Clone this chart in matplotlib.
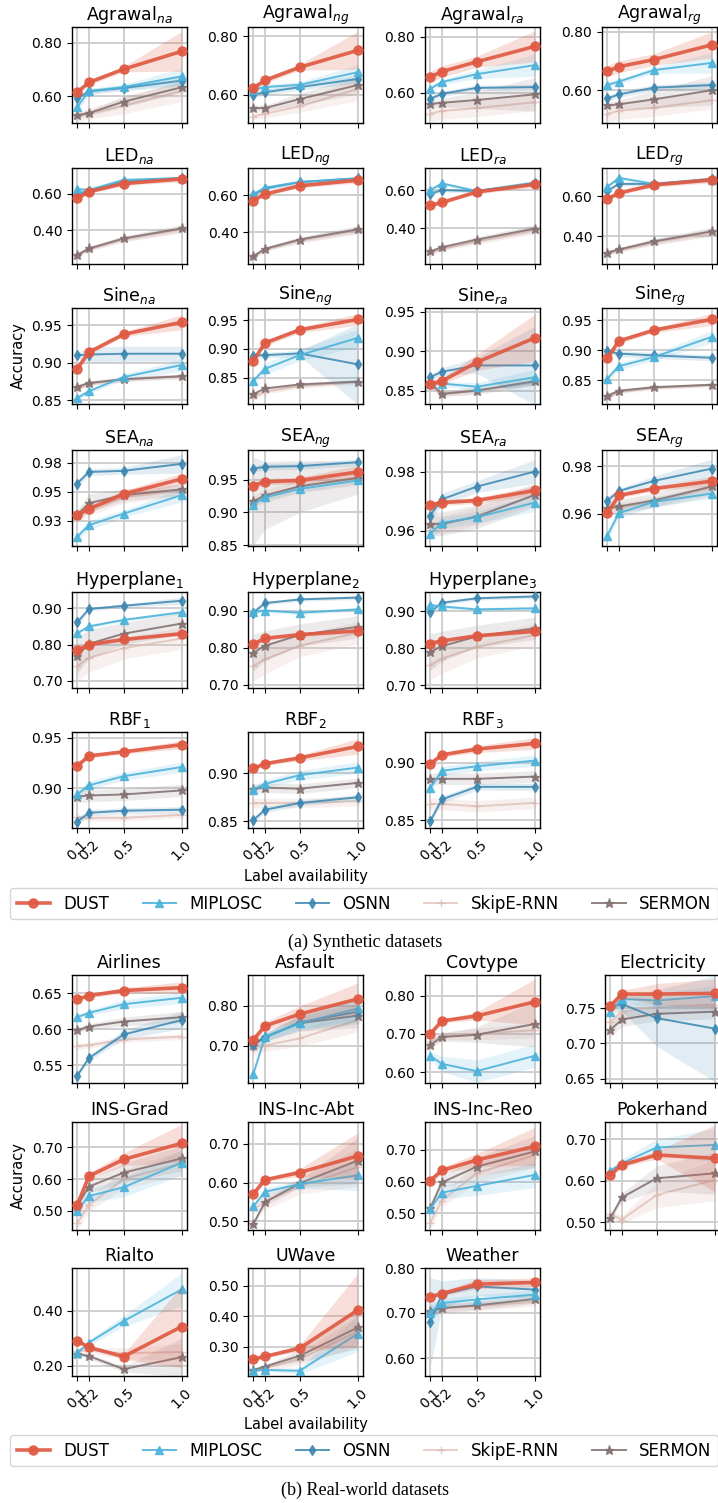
import matplotlib
matplotlib.use("Agg")
import matplotlib.pyplot as plt
from matplotlib.lines import Line2D

plt.rcParams['mathtext.fontset'] = 'dejavusans'
plt.rcParams['font.family'] = ['DejaVu Sans']

# ---------------- data ----------------
X = [0.1, 0.2, 0.5, 1.0]
XTICKLABELS = ["0.1", "0.2", "0.5", "1.0"]
METHODS = ["DUST", "MIPLOSC", "OSNN", "SkipE-RNN", "SERMON"]

# each entry: method -> (mean values, half-width of band)
AGRAWAL_NA = {
    "DUST": ([0.615, 0.652, 0.702, 0.769], [0.01, 0.01, 0.01, 0.075]),
    "MIPLOSC": ([0.560, 0.619, 0.635, 0.675], [0.02, 0.01, 0.01, 0.03]),
    "OSNN": ([0.592, 0.619, 0.631, 0.659], [0.01, 0.01, 0.01, 0.02]),
    "SkipE-RNN": ([0.525, 0.535, 0.565, 0.620], [0.02, 0.02, 0.03, 0.04]),
    "SERMON": ([0.529, 0.537, 0.580, 0.634], [0.01, 0.01, 0.02, 0.02]),
}
AGRAWAL_NG = {
    "DUST": ([0.623, 0.649, 0.694, 0.752], [0.01, 0.01, 0.01, 0.065]),
    "MIPLOSC": ([0.617, 0.626, 0.634, 0.677], [0.01, 0.01, 0.01, 0.025]),
    "OSNN": ([0.600, 0.608, 0.626, 0.654], [0.01, 0.01, 0.01, 0.015]),
    "SkipE-RNN": ([0.525, 0.535, 0.560, 0.620], [0.01, 0.015, 0.02, 0.04]),
    "SERMON": ([0.554, 0.554, 0.585, 0.633], [0.01, 0.01, 0.02, 0.03]),
}
AGRAWAL_RA = {
    "DUST": ([0.656, 0.675, 0.710, 0.765], [0.02, 0.02, 0.02, 0.055]),
    "MIPLOSC": ([0.614, 0.638, 0.666, 0.698], [0.01, 0.01, 0.015, 0.04]),
    "OSNN": ([0.578, 0.596, 0.617, 0.620], [0.01, 0.01, 0.01, 0.01]),
    "SkipE-RNN": ([0.525, 0.535, 0.545, 0.566], [0.03, 0.03, 0.03, 0.03]),
    "SERMON": ([0.560, 0.564, 0.574, 0.594], [0.01, 0.015, 0.03, 0.06]),
}
AGRAWAL_RG = {
    "DUST": ([0.665, 0.681, 0.705, 0.756], [0.02, 0.02, 0.02, 0.045]),
    "MIPLOSC": ([0.618, 0.630, 0.669, 0.694], [0.01, 0.01, 0.01, 0.035]),
    "OSNN": ([0.572, 0.586, 0.609, 0.618], [0.01, 0.01, 0.01, 0.01]),
    "SkipE-RNN": ([0.520, 0.530, 0.540, 0.566], [0.03, 0.03, 0.03, 0.03]),
    "SERMON": ([0.548, 0.552, 0.569, 0.600], [0.01, 0.015, 0.03, 0.05]),
}
LED_NA = {
    "DUST": ([0.575, 0.610, 0.655, 0.680], [0.01, 0.01, 0.01, 0.015]),
    "MIPLOSC": ([0.625, 0.620, 0.675, 0.685], [0.01, 0.01, 0.01, 0.01]),
    "OSNN": ([0.600, 0.615, 0.665, 0.685], [0.01, 0.01, 0.01, 0.01]),
    "SkipE-RNN": ([0.260, 0.295, 0.350, 0.405], [0.01, 0.01, 0.015, 0.02]),
    "SERMON": ([0.265, 0.300, 0.355, 0.410], [0.01, 0.01, 0.015, 0.02]),
}
LED_NG = {
    "DUST": ([0.570, 0.605, 0.650, 0.680], [0.01, 0.01, 0.01, 0.015]),
    "MIPLOSC": ([0.605, 0.640, 0.670, 0.690], [0.01, 0.01, 0.01, 0.01]),
    "OSNN": ([0.600, 0.635, 0.670, 0.690], [0.01, 0.01, 0.01, 0.01]),
    "SkipE-RNN": ([0.265, 0.305, 0.355, 0.410], [0.01, 0.01, 0.015, 0.02]),
    "SERMON": ([0.270, 0.310, 0.360, 0.415], [0.01, 0.01, 0.015, 0.02]),
}
LED_RA = {
    "DUST": ([0.520, 0.535, 0.590, 0.630], [0.01, 0.01, 0.01, 0.015]),
    "MIPLOSC": ([0.600, 0.635, 0.595, 0.640], [0.01, 0.01, 0.01, 0.01]),
    "OSNN": ([0.580, 0.600, 0.595, 0.635], [0.01, 0.01, 0.01, 0.01]),
    "SkipE-RNN": ([0.270, 0.290, 0.330, 0.390], [0.01, 0.01, 0.015, 0.02]),
    "SERMON": ([0.278, 0.300, 0.340, 0.398], [0.01, 0.01, 0.015, 0.02]),
}
LED_RG = {
    "DUST": ([0.585, 0.615, 0.655, 0.680], [0.01, 0.01, 0.01, 0.015]),
    "MIPLOSC": ([0.645, 0.690, 0.660, 0.680], [0.01, 0.01, 0.01, 0.01]),
    "OSNN": ([0.625, 0.660, 0.660, 0.685], [0.01, 0.01, 0.01, 0.01]),
    "SkipE-RNN": ([0.315, 0.330, 0.370, 0.420], [0.01, 0.01, 0.015, 0.02]),
    "SERMON": ([0.320, 0.335, 0.375, 0.425], [0.01, 0.01, 0.015, 0.02]),
}
SINE_NA = {
    "DUST": ([0.892, 0.914, 0.938, 0.954], [0.004, 0.003, 0.003, 0.010]),
    "MIPLOSC": ([0.853, 0.862, 0.881, 0.897], [0.003, 0.003, 0.004, 0.008]),
    "OSNN": ([0.910, 0.911, 0.912, 0.912], [0.004, 0.010, 0.010, 0.010]),
    "SkipE-RNN": ([0.866, 0.872, 0.878, 0.882], [0.003, 0.003, 0.003, 0.003]),
    "SERMON": ([0.868, 0.873, 0.878, 0.882], [0.003, 0.003, 0.003, 0.003]),
}
SINE_NG = {
    "DUST": ([0.879, 0.910, 0.933, 0.951], [0.005, 0.005, 0.005, 0.010]),
    "MIPLOSC": ([0.844, 0.865, 0.889, 0.919], [0.005, 0.010, 0.010, 0.015]),
    "OSNN": ([0.888, 0.889, 0.892, 0.873], [0.005, 0.005, 0.005, 0.070]),
    "SkipE-RNN": ([0.815, 0.825, 0.835, 0.842], [0.004, 0.004, 0.004, 0.004]),
    "SERMON": ([0.821, 0.831, 0.838, 0.843], [0.003, 0.003, 0.003, 0.003]),
}
SINE_RA = {
    "DUST": ([0.859, 0.862, 0.886, 0.917], [0.004, 0.004, 0.010, 0.030]),
    "MIPLOSC": ([0.858, 0.859, 0.855, 0.867], [0.003, 0.003, 0.005, 0.010]),
    "OSNN": ([0.867, 0.874, 0.882, 0.882], [0.004, 0.005, 0.010, 0.050]),
    "SkipE-RNN": ([0.855, 0.845, 0.850, 0.860], [0.003, 0.003, 0.003, 0.003]),
    "SERMON": ([0.860, 0.846, 0.850, 0.862], [0.003, 0.003, 0.005, 0.005]),
}
SINE_RG = {
    "DUST": ([0.886, 0.915, 0.933, 0.951], [0.005, 0.004, 0.004, 0.010]),
    "MIPLOSC": ([0.852, 0.873, 0.888, 0.922], [0.005, 0.006, 0.006, 0.010]),
    "OSNN": ([0.898, 0.894, 0.891, 0.887], [0.005, 0.005, 0.005, 0.005]),
    "SkipE-RNN": ([0.820, 0.830, 0.837, 0.842], [0.003, 0.003, 0.003, 0.003]),
    "SERMON": ([0.824, 0.832, 0.838, 0.842], [0.003, 0.003, 0.003, 0.003]),
}
SEA_NA = {
    "DUST": ([0.930, 0.935, 0.948, 0.961], [0.002, 0.003, 0.003, 0.005]),
    "MIPLOSC": ([0.911, 0.921, 0.931, 0.947], [0.003, 0.004, 0.003, 0.006]),
    "OSNN": ([0.957, 0.967, 0.968, 0.974], [0.003, 0.003, 0.003, 0.008]),
    "SkipE-RNN": ([0.928, 0.935, 0.945, 0.951], [0.005, 0.006, 0.005, 0.005]),
    "SERMON": ([0.930, 0.940, 0.947, 0.952], [0.004, 0.008, 0.005, 0.005]),
}
SEA_NG = {
    "DUST": ([0.941, 0.947, 0.949, 0.962], [0.005, 0.005, 0.005, 0.010]),
    "MIPLOSC": ([0.912, 0.923, 0.936, 0.949], [0.005, 0.005, 0.005, 0.005]),
    "OSNN": ([0.967, 0.970, 0.971, 0.977], [0.005, 0.005, 0.005, 0.005]),
    "SkipE-RNN": ([0.915, 0.925, 0.940, 0.952], [0.010, 0.010, 0.010, 0.010]),
    "SERMON": ([0.917, 0.926, 0.940, 0.953], [0.068, 0.052, 0.040, 0.025]),
}
SEA_RA = {
    "DUST": ([0.9687, 0.9695, 0.9702, 0.9736], [0.001, 0.001, 0.001, 0.0015]),
    "MIPLOSC": ([0.9589, 0.9627, 0.9645, 0.9695], [0.002, 0.002, 0.002, 0.003]),
    "OSNN": ([0.9651, 0.9706, 0.9749, 0.9800], [0.002, 0.002, 0.002, 0.004]),
    "SkipE-RNN": ([0.9620, 0.9620, 0.9650, 0.9720], [0.003, 0.003, 0.003, 0.003]),
    "SERMON": ([0.9623, 0.9623, 0.9647, 0.9721], [0.004, 0.004, 0.004, 0.004]),
}
SEA_RG = {
    "DUST": ([0.9604, 0.9677, 0.9706, 0.9737], [0.0015, 0.001, 0.001, 0.002]),
    "MIPLOSC": ([0.9508, 0.9603, 0.9650, 0.9685], [0.002, 0.002, 0.002, 0.002]),
    "OSNN": ([0.9654, 0.9696, 0.9738, 0.9790], [0.002, 0.001, 0.002, 0.004]),
    "SkipE-RNN": ([0.9620, 0.9625, 0.9650, 0.9710], [0.002, 0.002, 0.002, 0.002]),
    "SERMON": ([0.9624, 0.9631, 0.9656, 0.9715], [0.002, 0.003, 0.003, 0.004]),
}
HYPER_1 = {
    "DUST": ([0.784, 0.800, 0.814, 0.830], [0.010, 0.005, 0.005, 0.005]),
    "MIPLOSC": ([0.831, 0.850, 0.868, 0.889], [0.005, 0.005, 0.005, 0.005]),
    "OSNN": ([0.861, 0.898, 0.907, 0.921], [0.010, 0.005, 0.005, 0.010]),
    "SkipE-RNN": ([0.740, 0.763, 0.790, 0.817], [0.040, 0.040, 0.030, 0.030]),
    "SERMON": ([0.769, 0.802, 0.830, 0.858], [0.050, 0.040, 0.030, 0.030]),
}
HYPER_2 = {
    "DUST": ([0.809, 0.825, 0.835, 0.845], [0.010, 0.005, 0.005, 0.005]),
    "MIPLOSC": ([0.895, 0.900, 0.894, 0.903], [0.005, 0.005, 0.005, 0.005]),
    "OSNN": ([0.894, 0.920, 0.930, 0.935], [0.010, 0.005, 0.005, 0.005]),
    "SkipE-RNN": ([0.750, 0.768, 0.805, 0.840], [0.040, 0.040, 0.030, 0.030]),
    "SERMON": ([0.786, 0.805, 0.834, 0.856], [0.050, 0.040, 0.030, 0.030]),
}
HYPER_3 = {
    "DUST": ([0.813, 0.820, 0.834, 0.846], [0.010, 0.005, 0.005, 0.005]),
    "MIPLOSC": ([0.917, 0.913, 0.905, 0.908], [0.005, 0.005, 0.005, 0.005]),
    "OSNN": ([0.897, 0.923, 0.935, 0.940], [0.010, 0.005, 0.005, 0.005]),
    "SkipE-RNN": ([0.755, 0.772, 0.804, 0.836], [0.040, 0.040, 0.030, 0.030]),
    "SERMON": ([0.790, 0.806, 0.832, 0.854], [0.050, 0.040, 0.030, 0.030]),
}
RBF_1 = {
    "DUST": ([0.922, 0.932, 0.936, 0.943], [0.002, 0.002, 0.002, 0.004]),
    "MIPLOSC": ([0.894, 0.903, 0.912, 0.921], [0.004, 0.004, 0.004, 0.005]),
    "OSNN": ([0.867, 0.876, 0.878, 0.879], [0.003, 0.003, 0.003, 0.003]),
    "SkipE-RNN": ([0.872, 0.871, 0.871, 0.874], [0.003, 0.003, 0.003, 0.003]),
    "SERMON": ([0.892, 0.893, 0.894, 0.898], [0.006, 0.006, 0.006, 0.006]),
}
RBF_2 = {
    "DUST": ([0.905, 0.910, 0.916, 0.928], [0.002, 0.002, 0.003, 0.008]),
    "MIPLOSC": ([0.883, 0.889, 0.898, 0.906], [0.003, 0.004, 0.005, 0.006]),
    "OSNN": ([0.851, 0.862, 0.869, 0.875], [0.003, 0.003, 0.003, 0.003]),
    "SkipE-RNN": ([0.869, 0.869, 0.869, 0.871], [0.005, 0.005, 0.005, 0.005]),
    "SERMON": ([0.884, 0.885, 0.884, 0.890], [0.005, 0.005, 0.005, 0.005]),
}
RBF_3 = {
    "DUST": ([0.899, 0.907, 0.912, 0.917], [0.002, 0.002, 0.003, 0.005]),
    "MIPLOSC": ([0.878, 0.893, 0.897, 0.902], [0.003, 0.004, 0.004, 0.005]),
    "OSNN": ([0.849, 0.868, 0.879, 0.879], [0.003, 0.003, 0.003, 0.003]),
    "SkipE-RNN": ([0.864, 0.864, 0.862, 0.865], [0.005, 0.005, 0.005, 0.005]),
    "SERMON": ([0.886, 0.886, 0.886, 0.888], [0.005, 0.005, 0.005, 0.005]),
}
AIRLINES = {
    "DUST": ([0.642, 0.647, 0.654, 0.658], [0.002, 0.003, 0.004, 0.008]),
    "MIPLOSC": ([0.617, 0.623, 0.635, 0.644], [0.003, 0.004, 0.006, 0.008]),
    "OSNN": ([0.536, 0.560, 0.593, 0.613], [0.003, 0.004, 0.006, 0.012]),
    "SkipE-RNN": ([0.577, 0.578, 0.586, 0.590], [0.004, 0.004, 0.004, 0.004]),
    "SERMON": ([0.599, 0.604, 0.611, 0.617], [0.004, 0.004, 0.006, 0.008]),
}
ASFAULT = {
    "DUST": ([0.714, 0.749, 0.779, 0.817], [0.010, 0.010, 0.020, 0.040]),
    "MIPLOSC": ([0.628, 0.721, 0.756, 0.793], [0.005, 0.010, 0.015, 0.030]),
    "OSNN": ([0.702, 0.721, 0.758, 0.785], [0.010, 0.010, 0.020, 0.030]),
    "SkipE-RNN": ([0.690, 0.700, 0.718, 0.764], [0.015, 0.015, 0.020, 0.030]),
    "SERMON": ([0.702, 0.721, 0.756, 0.775], [0.010, 0.010, 0.020, 0.030]),
}
COVTYPE = {
    "DUST": ([0.700, 0.734, 0.747, 0.784], [0.005, 0.005, 0.010, 0.060]),
    "MIPLOSC": ([0.643, 0.622, 0.603, 0.643], [0.010, 0.020, 0.030, 0.030]),
    "SkipE-RNN": ([0.680, 0.695, 0.700, 0.710], [0.010, 0.010, 0.015, 0.020]),
    "SERMON": ([0.671, 0.692, 0.698, 0.726], [0.010, 0.010, 0.020, 0.060]),
}
ELECTRICITY = {
    "DUST": ([0.753, 0.770, 0.770, 0.771], [0.005, 0.005, 0.015, 0.020]),
    "MIPLOSC": ([0.745, 0.763, 0.761, 0.767], [0.005, 0.005, 0.010, 0.015]),
    "OSNN": ([0.750, 0.756, 0.736, 0.721], [0.005, 0.010, 0.040, 0.075]),
    "SkipE-RNN": ([0.730, 0.745, 0.752, 0.755], [0.010, 0.010, 0.010, 0.010]),
    "SERMON": ([0.719, 0.734, 0.742, 0.745], [0.010, 0.010, 0.010, 0.010]),
}
INS_GRAD = {
    "DUST": ([0.518, 0.609, 0.662, 0.713], [0.010, 0.010, 0.020, 0.060]),
    "MIPLOSC": ([0.500, 0.546, 0.574, 0.652], [0.010, 0.020, 0.030, 0.040]),
    "SkipE-RNN": ([0.460, 0.518, 0.600, 0.650], [0.020, 0.020, 0.030, 0.040]),
    "SERMON": ([0.515, 0.576, 0.620, 0.665], [0.010, 0.020, 0.030, 0.040]),
}
INS_ABT = {
    "DUST": ([0.570, 0.607, 0.626, 0.669], [0.005, 0.005, 0.010, 0.060]),
    "MIPLOSC": ([0.538, 0.576, 0.596, 0.619], [0.005, 0.010, 0.010, 0.040]),
    "SkipE-RNN": ([0.530, 0.550, 0.590, 0.640], [0.010, 0.020, 0.020, 0.050]),
    "SERMON": ([0.492, 0.549, 0.598, 0.657], [0.005, 0.010, 0.010, 0.060]),
}
INS_REO = {
    "DUST": ([0.603, 0.635, 0.668, 0.711], [0.010, 0.010, 0.020, 0.060]),
    "MIPLOSC": ([0.513, 0.565, 0.586, 0.621], [0.010, 0.020, 0.030, 0.040]),
    "SkipE-RNN": ([0.470, 0.540, 0.626, 0.684], [0.020, 0.020, 0.030, 0.040]),
    "SERMON": ([0.516, 0.597, 0.647, 0.695], [0.010, 0.020, 0.030, 0.050]),
}
POKERHAND = {
    "DUST": ([0.614, 0.638, 0.662, 0.654], [0.005, 0.005, 0.010, 0.080]),
    "MIPLOSC": ([0.624, 0.642, 0.680, 0.686], [0.005, 0.010, 0.020, 0.040]),
    "SkipE-RNN": ([0.520, 0.507, 0.566, 0.602], [0.010, 0.010, 0.030, 0.050]),
    "SERMON": ([0.510, 0.560, 0.606, 0.618], [0.005, 0.010, 0.030, 0.050]),
}
RIALTO = {
    "DUST": ([0.291, 0.267, 0.233, 0.343], [0.005, 0.005, 0.010, 0.150]),
    "MIPLOSC": ([0.247, 0.284, 0.363, 0.479], [0.005, 0.010, 0.020, 0.060]),
    "SkipE-RNN": ([0.255, 0.255, 0.245, 0.250], [0.010, 0.010, 0.020, 0.030]),
    "SERMON": ([0.243, 0.235, 0.187, 0.231], [0.005, 0.010, 0.010, 0.070]),
}
UWAVE = {
    "DUST": ([0.259, 0.268, 0.295, 0.420], [0.005, 0.005, 0.010, 0.120]),
    "MIPLOSC": ([0.222, 0.224, 0.221, 0.343], [0.005, 0.005, 0.010, 0.060]),
    "SkipE-RNN": ([0.220, 0.230, 0.260, 0.350], [0.005, 0.010, 0.020, 0.050]),
    "SERMON": ([0.224, 0.235, 0.270, 0.363], [0.005, 0.005, 0.020, 0.070]),
}
WEATHER = {
    "DUST": ([0.736, 0.743, 0.764, 0.768], [0.005, 0.005, 0.010, 0.010]),
    "MIPLOSC": ([0.700, 0.722, 0.730, 0.741], [0.020, 0.010, 0.010, 0.010]),
    "OSNN": ([0.679, 0.741, 0.759, 0.752], [0.100, 0.030, 0.020, 0.020]),
    "SkipE-RNN": ([0.700, 0.710, 0.715, 0.725], [0.010, 0.010, 0.010, 0.010]),
    "SERMON": ([0.705, 0.711, 0.717, 0.731], [0.010, 0.010, 0.010, 0.010]),
}

# ---------------- styles ----------------
STYLE = {
    "DUST": dict(color="#e05a43", marker="o", lw=2.6, ms=6.5, z=6, band=0.2, a=0.92),
    "MIPLOSC": dict(color="#4cb3da", marker="^", lw=1.4, ms=5.5, z=5, band=0.15, a=0.9),
    "OSNN": dict(color="#3a86b0", marker="d", lw=1.4, ms=5.5, z=4, band=0.15, a=0.85),
    "SkipE-RNN": dict(color="#dcb8b0", marker="+", lw=1.4, ms=5.5, z=2, band=0.2, a=0.7),
    "SERMON": dict(color="#857272", marker="*", lw=1.4, ms=6.5, z=3, band=0.15, a=0.9),
}

W, H, DPI = 718, 1503, 100
fig = plt.figure(figsize=(W / DPI, H / DPI), dpi=DPI)


def ax_at(left, top, width, height):
    return fig.add_axes([left / W, 1 - (top + height) / H, width / W, height / H])


def fmt(v):
    return "%.2f" % (v + 1e-9)


def draw(pos, title, data, ylim, yticks, bottom=False, ylabel=False, xlabel=False):
    ax = ax_at(*pos)
    for m in reversed(METHODS):
        if m not in data:
            continue
        mean, err = data[m]
        st = STYLE[m]
        lo = [a - b for a, b in zip(mean, err)]
        hi = [a + b for a, b in zip(mean, err)]
        ax.fill_between(X, lo, hi, color=st["color"], alpha=st["band"], lw=0, zorder=st["z"] - 0.5)
        ax.plot(X, mean, color=st["color"], marker=st["marker"], lw=st["lw"], ms=st["ms"],
                zorder=st["z"], alpha=st["a"])
    ax.set_xlim(0.055, 1.045)
    ax.set_ylim(*ylim)
    ax.set_xticks(X)
    ax.set_yticks(yticks)
    ax.set_yticklabels([fmt(v) for v in yticks])
    if bottom:
        ax.set_xticklabels(XTICKLABELS, rotation=45, fontsize=10)
    else:
        ax.set_xticklabels([])
    ax.tick_params(labelsize=10, length=3.5, width=0.8)
    ax.grid(True, color="#cccccc", lw=1.3)
    ax.set_axisbelow(True)
    for s in ax.spines.values():
        s.set_linewidth(1.0)
    ax.set_title(title, fontsize=12.5, pad=5)
    if ylabel:
        ax.set_ylabel("Accuracy", fontsize=10.5)
    if xlabel:
        ax.set_xlabel("Label availability", fontsize=10.5)
    return ax


COLS_S = [72, 248, 425, 602]
ROWS_S = [27, 168, 308, 450, 592, 732]
AW, AH = 115, 96

synthetic = [
    (r"Agrawal$_{na}$", AGRAWAL_NA, (0.500, 0.860), [0.6, 0.8]),
    (r"Agrawal$_{ng}$", AGRAWAL_NG, (0.503, 0.832), [0.6, 0.8]),
    (r"Agrawal$_{ra}$", AGRAWAL_RA, (0.492, 0.834), [0.6, 0.8]),
    (r"Agrawal$_{rg}$", AGRAWAL_RG, (0.488, 0.817), [0.6, 0.8]),
    (r"LED$_{na}$", LED_NA, (0.215, 0.740), [0.4, 0.6]),
    (r"LED$_{ng}$", LED_NG, (0.228, 0.746), [0.4, 0.6]),
    (r"LED$_{ra}$", LED_RA, (0.212, 0.716), [0.4, 0.6]),
    (r"LED$_{rg}$", LED_RG, (0.263, 0.739), [0.4, 0.6]),
    (r"Sine$_{na}$", SINE_NA, (0.845, 0.973), [0.85, 0.90, 0.95]),
    (r"Sine$_{ng}$", SINE_NG, (0.804, 0.971), [0.85, 0.90, 0.95]),
    (r"Sine$_{ra}$", SINE_RA, (0.833, 0.955), [0.85, 0.90, 0.95]),
    (r"Sine$_{rg}$", SINE_RG, (0.810, 0.970), [0.85, 0.90, 0.95]),
    (r"SEA$_{na}$", SEA_NA, (0.903, 0.986), [0.925, 0.95, 0.975]),
    (r"SEA$_{ng}$", SEA_NG, (0.8485, 0.9957), [0.85, 0.90, 0.95]),
    (r"SEA$_{ra}$", SEA_RA, (0.9548, 0.9873), [0.96, 0.98]),
    (r"SEA$_{rg}$", SEA_RG, (0.9465, 0.9868), [0.96, 0.98]),
    (r"Hyperplane$_{1}$", HYPER_1, (0.680, 0.945), [0.7, 0.8, 0.9]),
    (r"Hyperplane$_{2}$", HYPER_2, (0.691, 0.950), [0.7, 0.8, 0.9]),
    (r"Hyperplane$_{3}$", HYPER_3, (0.693, 0.952), [0.7, 0.8, 0.9]),
    None,
    (r"RBF$_{1}$", RBF_1, (0.861, 0.9555), [0.90, 0.95]),
    (r"RBF$_{2}$", RBF_2, (0.843, 0.943), [0.85, 0.90]),
    (r"RBF$_{3}$", RBF_3, (0.843, 0.927), [0.85, 0.90]),
]

for i, p in enumerate(synthetic):
    if p is None:
        continue
    r, c = divmod(i, 4)
    title, data, ylim, yt = p
    draw((COLS_S[c], ROWS_S[r], AW, AH), title, data, ylim, yt,
         bottom=(r == 5), ylabel=(r == 2 and c == 0), xlabel=(r == 5 and c == 1))

COLS_R = [72, 248, 425, 605]
ROWS_R = [975, 1122, 1268]
AH_R = 108

real = [
    ("Airlines", AIRLINES, (0.5256, 0.6756), [0.55, 0.60, 0.65]),
    ("Asfault", ASFAULT, (0.606, 0.877), [0.7, 0.8]),
    ("Covtype", COVTYPE, (0.572, 0.854), [0.6, 0.7, 0.8]),
    ("Electricity", ELECTRICITY, (0.644, 0.797), [0.65, 0.70, 0.75]),
    ("INS-Grad", INS_GRAD, (0.439, 0.780), [0.5, 0.6, 0.7]),
    ("INS-Inc-Abt", INS_ABT, (0.477, 0.757), [0.5, 0.6, 0.7]),
    ("INS-Inc-Reo", INS_REO, (0.447, 0.788), [0.5, 0.6, 0.7]),
    ("Pokerhand", POKERHAND, (0.482, 0.741), [0.5, 0.6, 0.7]),
    ("Rialto", RIALTO, (0.162, 0.557), [0.2, 0.4]),
    ("UWave", UWAVE, (0.204, 0.558), [0.3, 0.4, 0.5]),
    ("Weather", WEATHER, (0.560, 0.800), [0.6, 0.7, 0.8]),
]

for i, p in enumerate(real):
    r, c = divmod(i, 4)
    title, data, ylim, yt = p
    draw((COLS_R[c], ROWS_R[r], AW, AH_R), title, data, ylim, yt,
         bottom=(r == 2), ylabel=(r == 1 and c == 0), xlabel=(r == 2 and c == 1))

handles = [Line2D([], [], color=STYLE[m]["color"], marker=STYLE[m]["marker"],
                  lw=STYLE[m]["lw"], ms=STYLE[m]["ms"], alpha=STYLE[m]["a"]) for m in METHODS]

for top in (888, 1435):
    fig.legend(handles, METHODS, loc="upper left", bbox_to_anchor=(10 / W, 1 - top / H),
               ncol=5, fontsize=12, borderaxespad=0)

fig.text(365 / W, 1 - 942 / H, "(a) Synthetic datasets", ha="center", va="center",
         family="Liberation Serif", fontsize=13)
fig.text(365 / W, 1 - 1490 / H, "(b) Real-world datasets", ha="center", va="center",
         family="Liberation Serif", fontsize=13)

fig.savefig("out.png", dpi=DPI)
